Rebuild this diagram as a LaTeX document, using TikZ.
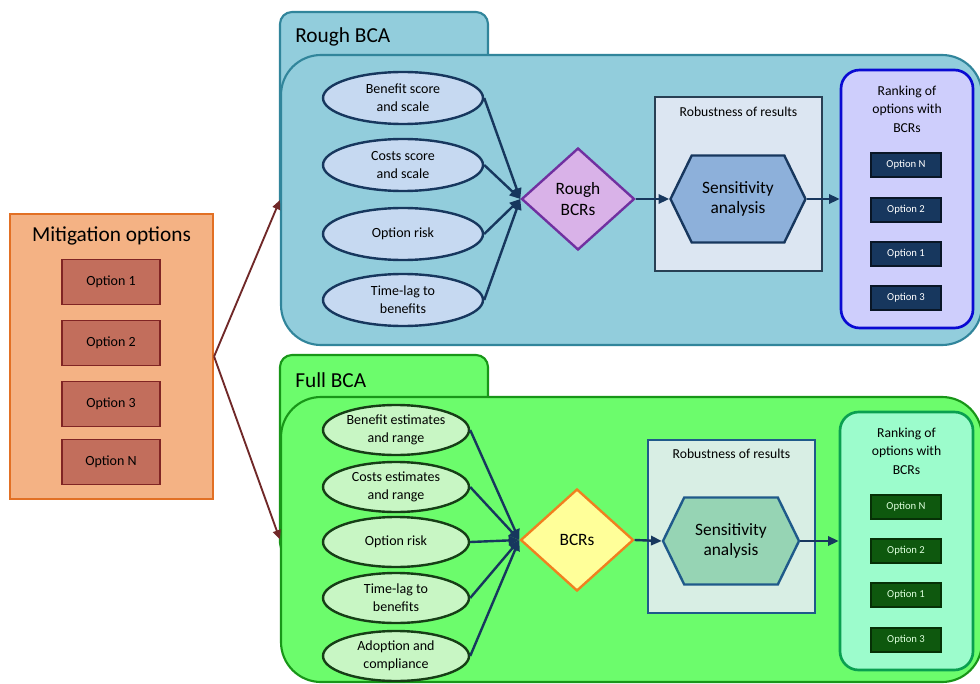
\documentclass[tikz,border=0pt]{standalone}
\usepackage{fontspec}
\setmainfont{Carlito}
\usetikzlibrary{shapes.geometric,shapes.symbols,arrows.meta}
\definecolor{mitfill}{RGB}{244,178,132}
\definecolor{mitdraw}{RGB}{226,112,36}
\definecolor{optfill}{RGB}{194,110,92}
\definecolor{optdraw}{RGB}{128,36,36}
\definecolor{redarr}{RGB}{112,40,40}
\definecolor{roughfill}{RGB}{146,205,220}
\definecolor{roughdraw}{RGB}{49,133,155}
\definecolor{rellfill}{RGB}{198,217,241}
\definecolor{navy}{RGB}{23,55,94}
\definecolor{rdiafill}{RGB}{217,178,232}
\definecolor{rdiadraw}{RGB}{112,48,160}
\definecolor{rrobfill}{RGB}{220,230,242}
\definecolor{rrobdraw}{RGB}{40,64,84}
\definecolor{rhexfill}{RGB}{141,176,218}
\definecolor{rrankfill}{RGB}{206,206,252}
\definecolor{rrankdraw}{RGB}{10,10,210}
\definecolor{fullfill}{RGB}{108,252,108}
\definecolor{fulldraw}{RGB}{24,150,24}
\definecolor{fellfill}{RGB}{200,246,196}
\definecolor{felldraw}{RGB}{22,62,22}
\definecolor{fdiafill}{RGB}{255,255,153}
\definecolor{fdiadraw}{RGB}{240,128,32}
\definecolor{frobfill}{RGB}{216,238,228}
\definecolor{frobdraw}{RGB}{31,90,138}
\definecolor{fhexfill}{RGB}{150,212,180}
\definecolor{frankfill}{RGB}{156,252,204}
\definecolor{frankdraw}{RGB}{10,160,80}
\definecolor{foptfill}{RGB}{14,88,14}
\definecolor{foptdraw}{RGB}{6,48,6}
\definecolor{fopttext}{RGB}{220,255,220}
\begin{document}
\begin{tikzpicture}[x=0.75pt,y=-0.75pt,
  every node/.style={align=center, inner sep=0pt, font=\fontsize{10.5}{13.5}\selectfont},
  bigtitle/.style={font=\fontsize{16}{19}\selectfont},
  mitbox/.style={draw=mitdraw, fill=mitfill, line width=1.6pt, minimum width=152.25pt, minimum height=213.75pt},
  optbox/.style={draw=optdraw, fill=optfill, line width=1.4pt, minimum width=73.5pt, minimum height=33.75pt, font=\fontsize{10.5}{12}\selectfont},
  redarrow/.style={draw=redarr, line width=1.4pt, -{Triangle[length=7pt,width=6pt]}},
  navyarrow/.style={draw=navy, line width=1.8pt, -{Triangle[length=8pt,width=7pt]}},
  roughpanel/.style={draw=roughdraw, fill=roughfill, line width=1.6pt},
  fullpanel/.style={draw=fulldraw, fill=fullfill, line width=1.6pt},
  rell/.style={ellipse, draw=navy, fill=rellfill, line width=1.8pt, minimum width=120pt, minimum height=39pt},
  fell/.style={ellipse, draw=felldraw, fill=fellfill, line width=1.8pt, minimum width=109.5pt, minimum height=37.5pt},
  diam/.style={diamond, line width=1.8pt, minimum width=84.75pt, minimum height=76.5pt, font=\fontsize{13}{15.5}\selectfont},
  hexa/.style={signal, signal to=west and east, signal pointer angle=128, line width=1.8pt, minimum width=101.25pt, minimum height=65.25pt, font=\fontsize{13}{15.5}\selectfont},
  robbox/.style={line width=1.8pt, minimum width=125.25pt, minimum height=130.5pt},
  roblabel/.style={font=\fontsize{10.25}{12}\selectfont},
  rankbox/.style={line width=2pt, rounded corners=14pt, minimum width=99pt, minimum height=193.5pt},
  ranklabel/.style={font=\fontsize{10.25}{14}\selectfont},
  ropt/.style={draw=black!60!navy, fill=navy, text=white, line width=1pt, minimum width=52.5pt, minimum height=18pt, font=\fontsize{8}{9}\selectfont},
  fopt/.style={draw=foptdraw, fill=foptfill, text=fopttext, line width=1pt, minimum width=52.5pt, minimum height=18pt, font=\fontsize{8}{9}\selectfont}
]
\useasboundingbox (0,0) rectangle (980,684);
\fill[white] (0,0) rectangle (980,684);

% Mitigation options
\node[mitbox] (mit) at (111.5,356.5) {};
\node[bigtitle] (mittitle) at (111.5,236) {Mitigation options};
\node[optbox] (m1) at (111,282) {Option 1};
\node[optbox] (m2) at (111,343) {Option 2};
\node[optbox] (m3) at (111,404) {Option 3};
\node[optbox] (mN) at (111,462) {Option N};

% Rough BCA panel
\node[roughpanel, rounded corners=9pt, minimum width=156pt, minimum height=150pt] (roughtab) at (384,112) {};
\node[roughpanel, rounded corners=30pt, minimum width=525.75pt, minimum height=217.5pt] (rough) at (631.5,200) {};
\node[bigtitle, anchor=west] (roughlabel) at (295,37) {Rough BCA};

% Full BCA panel
\node[fullpanel, rounded corners=9pt, minimum width=156pt, minimum height=150pt] (fulltab) at (384,455) {};
\node[fullpanel, rounded corners=30pt, minimum width=525.75pt, minimum height=213.75pt] (full) at (631.5,539.5) {};
\node[bigtitle, anchor=west] (fulllabel) at (295,380) {Full BCA};

% arrows from mitigation
\draw[redarrow] (mit.east) -- (rough.west);
\draw[redarrow] (mit.east) -- (full.west);

% Rough contents
\node[rell] (r1) at (403,98) {Benefit score\\and scale};
\node[rell] (r2) at (403,165) {Costs score\\and scale};
\node[rell] (r3) at (403,234) {Option risk};
\node[rell] (r4) at (403,300) {Time-lag to\\benefits};
\node[diam, draw=rdiadraw, fill=rdiafill] (rd) at (578,199) {Rough\\BCRs};
\node[robbox, draw=rrobdraw, fill=rrobfill] (rrob) at (738.5,184) {};
\node[roblabel] (rroblabel) at (738.5,112) {Robustness of results};
\node[hexa, draw=navy, fill=rhexfill] (rh) at (738,199) {Sensitivity\\analysis};
\node[rankbox, draw=rrankdraw, fill=rrankfill] (rrank) at (907,199) {};
\node[ranklabel] (rranklabel) at (907,109) {Ranking of\\options with\\BCRs};
\node[ropt] (ro1) at (906,165) {Option N};
\node[ropt] (ro2) at (906,210) {Option 2};
\node[ropt] (ro3) at (906,254) {Option 1};
\node[ropt] (ro4) at (906,298) {Option 3};
\foreach \n in {r1,r2,r3,r4} \draw[navyarrow] (\n.east) -- (rd.west);
\draw[navyarrow] (rd.east) -- (rh.west);
\draw[navyarrow] (rh.east) -- (rrank.west);

% Full contents
\node[fell] (f1) at (396,430) {Benefit estimates\\and range};
\node[fell] (f2) at (396,487) {Costs estimates\\and range};
\node[fell] (f3) at (396,542) {Option risk};
\node[fell] (f4) at (396,598) {Time-lag to\\benefits};
\node[fell] (f5) at (396,656) {Adoption and\\compliance};
\node[diam, draw=fdiadraw, fill=fdiafill] (fd) at (577,540) {BCRs};
\node[robbox, draw=frobdraw, fill=frobfill, minimum height=129.75pt] (frob) at (731.5,526.5) {};
\node[roblabel] (froblabel) at (731.5,454) {Robustness of results};
\node[hexa, draw=frobdraw, fill=fhexfill, minimum width=102pt] (fh) at (731,541) {Sensitivity\\analysis};
\node[rankbox, draw=frankdraw, fill=frankfill, minimum width=99.75pt] (frank) at (906.5,541) {};
\node[ranklabel] (franklabel) at (906.5,451) {Ranking of\\options with\\BCRs};
\node[fopt] (fo1) at (906,507) {Option N};
\node[fopt] (fo2) at (906,551) {Option 2};
\node[fopt] (fo3) at (906,595) {Option 1};
\node[fopt] (fo4) at (906,640) {Option 3};
\foreach \n in {f1,f2,f3,f4,f5} \draw[navyarrow] (\n.east) -- (fd.west);
\draw[navyarrow] (fd.east) -- (fh.west);
\draw[navyarrow] (fh.east) -- (frank.west);
\end{tikzpicture}
\end{document}
